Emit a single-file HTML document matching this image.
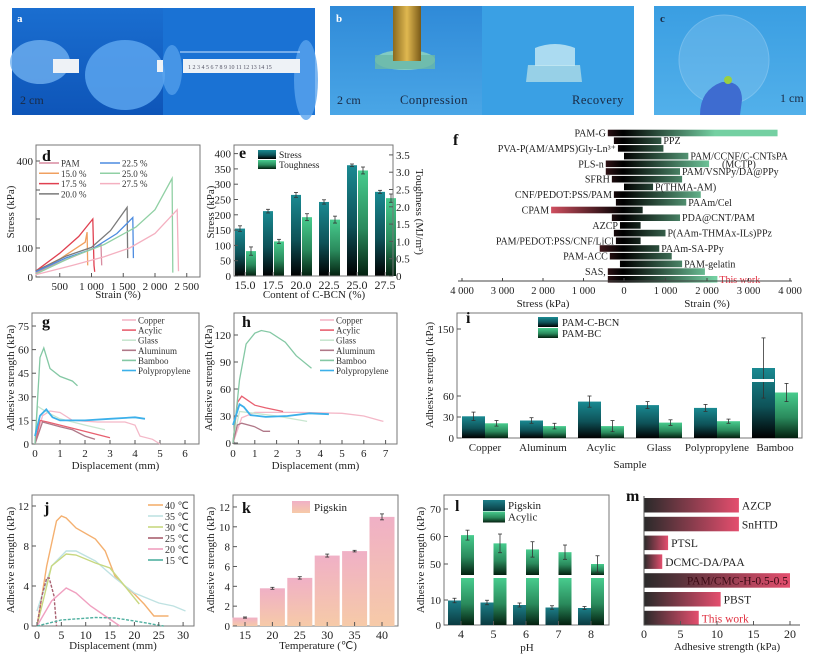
<!DOCTYPE html>
<html><head><meta charset="utf-8">
<style>
html,body{margin:0;padding:0;background:#fff;}
svg{display:block;font-family:"Liberation Serif",serif;}
</style></head>
<body>
<svg id="fig" width="814" height="656" viewBox="0 0 814 656" xmlns="http://www.w3.org/2000/svg">
<defs>
<linearGradient id="gTeal" x1="0" y1="0" x2="0" y2="1"><stop offset="0" stop-color="#1a8a92"/><stop offset="0.55" stop-color="#0e5258"/><stop offset="1" stop-color="#000"/></linearGradient>
<linearGradient id="gGreen" x1="0" y1="0" x2="0" y2="1"><stop offset="0" stop-color="#48cc8e"/><stop offset="0.55" stop-color="#2a8a5c"/><stop offset="1" stop-color="#03200f"/></linearGradient>
<linearGradient id="gPink" x1="0" y1="0" x2="0" y2="1"><stop offset="0" stop-color="#f0b0c6"/><stop offset="1" stop-color="#f6caa8"/></linearGradient>
<linearGradient id="gPig" x1="0" y1="0" x2="0" y2="1"><stop offset="0" stop-color="#1c7e88"/><stop offset="1" stop-color="#0a3a40"/></linearGradient>
<linearGradient id="gM" x1="0" y1="0" x2="1" y2="0"><stop offset="0" stop-color="#2a2a2a"/><stop offset="1" stop-color="#e44e6e"/></linearGradient>
<linearGradient id="gFL" gradientUnits="userSpaceOnUse" x1="622" y1="0" x2="545" y2="0"><stop offset="0" stop-color="#000"/><stop offset="1" stop-color="#e25668"/></linearGradient>
<linearGradient id="gFR" gradientUnits="userSpaceOnUse" x1="624" y1="0" x2="715" y2="0"><stop offset="0" stop-color="#000"/><stop offset="1" stop-color="#74d0a2"/></linearGradient>
<linearGradient id="pa1" x1="0" y1="0" x2="0" y2="1"><stop offset="0" stop-color="#1a6ed0"/><stop offset="1" stop-color="#0e55b8"/></linearGradient>
<linearGradient id="pb1" x1="0" y1="0" x2="0" y2="1"><stop offset="0" stop-color="#2f8ad8"/><stop offset="1" stop-color="#4aa6e6"/></linearGradient>
<linearGradient id="pc1" x1="0" y1="0" x2="0" y2="1"><stop offset="0" stop-color="#3a9ee2"/><stop offset="1" stop-color="#52b0ea"/></linearGradient>
<linearGradient id="gold" x1="0" y1="0" x2="1" y2="0"><stop offset="0" stop-color="#8a6a20"/><stop offset="0.5" stop-color="#e0b850"/><stop offset="1" stop-color="#7a5a18"/></linearGradient>
</defs>

<g>
<rect x="12" y="8" width="151" height="107" fill="url(#pa1)"/>
<rect x="163" y="8" width="152" height="107" fill="#1a72d4"/>
<ellipse cx="40" cy="62" rx="30" ry="22" fill="#6fb0f0" opacity="0.8"/>
<ellipse cx="125" cy="75" rx="40" ry="35" fill="#5aa4ee" opacity="0.85"/>
<ellipse cx="172" cy="70" rx="10" ry="25" fill="#5aa4ee" opacity="0.7"/>
<ellipse cx="306" cy="80" rx="12" ry="40" fill="#5aa4ee" opacity="0.8"/>
<rect x="53" y="59" width="26" height="14" fill="#eef2f6"/>
<rect x="157" y="60" width="6" height="12" fill="#eef2f6"/>
<rect x="183" y="59" width="117" height="14" fill="#eef2f6"/>
<text x="188" y="69" font-size="6" fill="#556">1 2 3 4 5 6 7 8 9 10 11 12 13 14 15</text>
<line x1="180" y1="52" x2="300" y2="52" stroke="#cfe6ff" stroke-width="1"/>
<text x="17" y="22" font-size="11" font-weight="bold" fill="#fff">a</text>
<text x="20" y="104" font-size="12" fill="#1a2a44">2 cm</text>
</g>
<g>
<rect x="330" y="6" width="152" height="109" fill="url(#pb1)"/>
<rect x="482" y="6" width="152" height="109" fill="#3aa0e4"/>
<ellipse cx="405" cy="60" rx="30" ry="10" fill="#8ad0c0" opacity="0.9"/>
<rect x="375" y="55" width="60" height="14" fill="#6ab8a8" opacity="0.8"/>
<rect x="393" y="6" width="28" height="55" fill="url(#gold)"/>
<path d="M528 65 L580 65 L582 82 L526 82 Z" fill="#a8d8e8" opacity="0.85"/>
<path d="M535 48 Q555 40 575 48 L575 66 L535 66 Z" fill="#c8eaf4" opacity="0.8"/>
<text x="337" y="104" font-size="12" fill="#1a2a44">2 cm</text>
<text x="400" y="104" font-size="12.5" fill="#1a2a44" letter-spacing="0.5">Conpression</text>
<text x="572" y="104" font-size="12.5" fill="#1a2a44" letter-spacing="0.5">Recovery</text>
<text x="336" y="22" font-size="11" font-weight="bold" fill="#fff">b</text>
</g>
<g>
<rect x="654" y="6" width="152" height="109" fill="url(#pc1)"/>
<circle cx="724" cy="60" r="45" fill="#8cc8f0" opacity="0.35" stroke="#cfe8fa" stroke-width="1"/>
<path d="M700 115 Q700 90 722 82 Q742 80 742 100 L740 115 Z" fill="#3e6cd0"/>
<circle cx="728" cy="80" r="4" fill="#9ad040"/>
<text x="660" y="22" font-size="11" font-weight="bold" fill="#1a2a44">c</text>
<text x="780" y="102" font-size="12" fill="#1a2a44">1 cm</text>
</g>

<g id="charts"></g>
</svg>
<script>
const NS='http://www.w3.org/2000/svg';
const S=document.getElementById('charts');
function el(tag,a,p){const e=document.createElementNS(NS,tag);for(const k in a)e.setAttribute(k,a[k]);(p||S).appendChild(e);return e;}
function tx(x,y,s,a,p){const e=el('text',Object.assign({x:x,y:y},a||{}),p);e.textContent=s;return e;}
function box(x,y,w,h,name){const r=el('rect',{x:x,y:y,width:w,height:h,fill:'none',stroke:'#777','stroke-width':1});

return r;}
function yTicks(xAxis,vals,labels,fy,name,side,fs){const g=el('g',{});


vals.forEach((v,i)=>{const y=fy(v);const d=side==='r'?-1:1;
el('line',{x1:xAxis,y1:y,x2:xAxis+4*d,y2:y,stroke:'#555'},g);
if(labels[i]!==''){tx(side==='r'?xAxis+3:xAxis-3,y+4,labels[i],{'font-size':fs||11,'text-anchor':side==='r'?'start':'end',fill:'#222'},g);}});return g;}
function xTicks(yAxis,vals,labels,fx,name,fs){const g=el('g',{});


vals.forEach((v,i)=>{const x=fx(v);el('line',{x1:x,y1:yAxis,x2:x,y2:yAxis-4,stroke:'#555'},g);
if(labels[i]!=='')tx(x,yAxis+13,labels[i],{'font-size':fs||11,'text-anchor':'middle',fill:'#222'},g);});return g;}
function vtitle(x,y,s,name,rot){const t=tx(x,y,s,{'font-size':11,'text-anchor':'middle',fill:'#222',transform:'rotate('+(rot||-90)+' '+x+' '+y+')'});

return t;}
function htitle(x,y,s,name){const t=tx(x,y,s,{'font-size':11,'text-anchor':'middle',fill:'#222'});

return t;}
function letter(x,y,s){const t=tx(x,y,s,{'font-size':16,'font-weight':'bold',fill:'#111'});

}
function pts(arr,fx,fy){return arr.map(p=>fx(p[0]).toFixed(1)+','+fy(p[1]).toFixed(1)).join(' ');}
function errbar(x,y1,y2,name){const g=el('g',{stroke:'#333','stroke-width':0.8});


el('line',{x1:x,y1:y1,x2:x,y2:y2},g);el('line',{x1:x-2,y1:y1,x2:x+2,y2:y1},g);el('line',{x1:x-2,y1:y2,x2:x+2,y2:y2},g);}

/* ===== Panel d data ===== */
const dStrainTicks=[500,1000,1500,2000,2500];
const dStrainLabels=['500','1 000','1 500','2 000','2 500'];
const dStressTicks=[0,100,200,300,400];
const dStressLabels=['0','100','','','400'];
const dNames=['PAM','15.0 %','17.5 %','20.0 %','22.5 %','25.0 %','27.5 %'];
const d_PAM=[[120,15],[600,60],[1100,105],[1150,112],[1160,40]];
const d_15=[[120,20],[500,62],[900,120],[930,155],[940,40]];
const d_175=[[120,20],[500,82],[800,140],[1020,200],[1040,40],[1050,18]];
const d_20=[[120,20],[600,72],[1000,102],[1300,160],[1560,240],[1570,65]];
const d_225=[[120,18],[600,66],[1000,95],[1400,150],[1650,205],[1660,65]];
const d_25=[[120,10],[700,70],[1200,112],[1700,172],[2000,232],[2270,340],[2280,15]];
const d_275=[[120,8],[700,40],[1200,70],[1600,100],[2000,150],[2350,232],[2370,20]];
const dCurves=[d_PAM,d_15,d_175,d_20,d_225,d_25,d_275];
const dColors=['#d88ca0','#f0a060','#e04050','#7a7a7a','#4d8ce0','#90d0a4','#f4b0c0'];
{
 const fx=s=>28+s*0.0635, fy=v=>277-v*0.29;
 box(36,145,164,132,'plot-area-d');
 yTicks(36,dStressTicks,dStressLabels,fy,'y-axis-ticks-d');
 xTicks(277,dStrainTicks,dStrainLabels,fx,'x-axis-ticks-d');
 vtitle(14,212,'Stress (kPa)','y-axis-title-d');
 htitle(118,298,'Strain (%)','x-axis-title-d');
 letter(42,161,'d');
 dCurves.forEach((c,i)=>{const l=el('polyline',{points:pts(c,fx,fy),fill:'none',stroke:dColors[i],'stroke-width':1.3});
 
 });
 dNames.forEach((n,i)=>{const col=i<4?0:1, r=i<4?i:i-4;const x=col?100:39, y=163+r*10.3;
 const g=el('g',{});
 
 
 el('line',{x1:x,y1:y,x2:x+20,y2:y,stroke:dColors[i],'stroke-width':1.5},g);
 tx(x+22,y+3.5,n,{'font-size':9,fill:'#333'},g);});
}

/* ===== Panel e data ===== */
const eCats=['15.0','17.5','20.0','22.5','25.0','27.5'];
const eStress=[155,212,265,242,362,275];
const eStressErr=[9,6,8,7,4,5];
const eTough=[0.72,1.0,1.7,1.63,3.05,2.25];
const eToughErr=[0.12,0.06,0.1,0.1,0.1,0.12];
const eStressTicks=[0,50,100,150,200,250,300,350,400];
const eToughTicks=[0,0.5,1.0,1.5,2.0,2.5,3.0,3.5];
{
 const fx=i=>245+i*28, fy=v=>276-v*0.306, ft=v=>276-v*34.6;
 eCats.forEach((c,i)=>{const x=fx(i);
  const b=el('rect',{x:x-10,y:fy(eStress[i]),width:10,height:276-fy(eStress[i]),fill:'url(#gTeal)'});
  
  
  const b2=el('rect',{x:x+1,y:ft(eTough[i]),width:10,height:276-ft(eTough[i]),fill:'url(#gGreen)'});
  
  
  errbar(x-5,fy(eStress[i]+eStressErr[i]),fy(eStress[i]-eStressErr[i]),'error-stress-'+c);
  errbar(x+6,ft(eTough[i]+eToughErr[i]),ft(eTough[i]-eToughErr[i]),'error-toughness-'+c);
 });
 box(234,145,159,131,'plot-area-e');
 yTicks(234,eStressTicks,eStressTicks.map(String),fy,'y-axis-ticks-e');
 yTicks(393,eToughTicks,eToughTicks.map(v=>v===0?'0':v.toFixed(1)),ft,'y2-axis-ticks-e','r');
 xTicks(276,eCats.map((c,i)=>i),eCats,fx,'x-axis-ticks-e',12);
 vtitle(214,212,'Stress (kPa)','y-axis-title-e');
 vtitle(416,212,'Toughness (MJ/m³)','y2-axis-title-e',90);
 htitle(314,298,'Content of C-BCN (%)','x-axis-title-e');
 letter(239,158,'e');
 [['Stress','url(#gTeal)'],['Toughness','url(#gGreen)']].forEach((p,i)=>{const g=el('g',{});
  
  
  el('rect',{x:258,y:150+i*10,width:18,height:9,fill:p[1]},g);
  tx(279,158+i*10,p[0],{'font-size':9.5,fill:'#222'},g);});
}

/* ===== Panel f data ===== */
const fNames=['PAM-G','PPZ','PVA-P(AM/AMPS)Gly-Ln³⁺','PAM/CCNF/C-CNTsPA','PLS-n','PAM/VSNPy/DA@PPy','SFRH','P(THMA-AM)','CNF/PEDOT:PSS/PAM','PAAm/Cel','CPAM','PDA@CNT/PAM','AZCP','P(AAm-THMAx-ILs)PPz','PAM/PEDOT:PSS/CNF/LiCl','PAAm-SA-PPy','PAM-ACC','PAM-gelatin','SAS,','This work'];
const fStress=[400,250,150,0,450,450,300,0,250,200,1800,300,100,250,200,600,350,100,400,400];
const fStrain=[3700,900,950,1550,2050,1350,1400,700,1850,1500,450,1350,400,1000,400,850,1150,1400,1950,2250];
const fLeftLabelRows=[0,2,4,6,8,10,12,14,16,18];
const fRightLabelRows=[1,3,5,7,9,11,13,15,17,19];
const fTickVals=[-4000,-3000,-2000,-1000,0,1000,2000,3000,4000];
const fTickLabels=['4 000','3 000','2 000','1 000','0','1 000','2 000','3 000','4 000'];
{
 const fl=v=>624-v*0.0405, fr=v=>624+v*0.0415, fy=i=>133+i*7.7;
 const fxs=v=>v<0?fl(-v):fr(v);
 fNames.forEach((n,i)=>{const y=fy(i);
  const bl=el('rect',{x:fl(fStress[i]),y:y-3.3,width:Math.max(0,624-fl(fStress[i])),height:6.6,fill:'url(#gFL)'});
  
  
  const br=el('rect',{x:624,y:y-3.3,width:fr(fStrain[i])-624,height:6.6,fill:'url(#gFR)'});
  
  
 });
 fLeftLabelRows.forEach(i=>{const t=tx(Math.min(fl(fStress[i]),622)-2,fy(i)+3.5,fNames[i],{'font-size':10,'text-anchor':'end',fill:'#222'});
  
  });
 fRightLabelRows.forEach(i=>{const red=i===19;const t=tx(fr(fStrain[i])+2,fy(i)+3.5,fNames[i],{'font-size':10,fill:red?'#e03040':'#222'});
  
  });
 const m=tx(722,fy(4)+3.5,'(MCTP)',{'font-size':10,fill:'#222'});
 
 
 const ax=el('line',{x1:458,y1:281,x2:792,y2:281,stroke:'#444'});
 
 
 const g=el('g',{});
 
 
 fTickVals.forEach((v,i)=>{const x=fxs(v);el('line',{x1:x,y1:281,x2:x,y2:278,stroke:'#444'},g);
  tx(x,294,fTickLabels[i],{'font-size':10.5,'text-anchor':'middle',fill:'#222'},g);});
 htitle(543,307,'Stress (kPa)','x-axis-title-f-stress');
 htitle(707,307,'Strain (%)','x-axis-title-f-strain');
 letter(453,145,'f');
}

/* ===== Panels g & h data ===== */
const ghNames=['Copper','Acylic','Glass','Aluminum','Bamboo','Polypropylene'];
const ghColors=['#f4b8c8','#e86070','#c8e6d0','#b07888','#84c8a4','#3cb0ea'];
const g_Copper=[[0,0],[0.3,18],[0.6,21],[1,20],[1.5,15],[2.5,14],[3.6,14],[4,12],[4.2,5],[4.7,3],[5,0]];
const g_Acylic=[[0,0],[0.2,15],[0.5,14],[1,12],[2,8],[3,4]];
const g_Glass=[[0,0],[0.1,24],[0.5,20],[1,16],[2,12],[2.8,9]];
const g_Aluminum=[[0,0],[0.3,14],[1,11],[1.5,9],[2,5],[2.4,3]];
const g_Bamboo=[[0,0],[0.2,55],[0.35,61],[0.6,48],[1,43],[1.5,40],[1.7,37]];
const g_PP=[[0,5],[0.2,18],[0.45,22],[0.7,17],[1,15],[2,15],[3,16],[4,17],[4.4,16]];
const h_Copper=[[0,0],[0.4,28],[1,34],[3,34],[5,33],[6,30],[6.9,24]];
const h_Acylic=[[0,0],[0.2,45],[0.4,52],[1,42],[1.5,39],[2.3,35]];
const h_Glass=[[0,0],[0.3,35],[1,33],[2,30],[3.4,24]];
const h_Aluminum=[[0,0],[0.2,20],[0.4,22],[1,18],[1.4,13],[1.7,13]];
const h_Bamboo=[[0,0],[0.3,70],[0.6,110],[1,122],[1.3,125],[1.7,123],[2.4,112],[2.9,97],[3.6,83]];
const h_PP=[[0,20],[0.3,43],[0.5,40],[0.8,31],[1.5,29],[2.5,30],[3.5,33],[4.4,32]];
const gXTicks=[0,1,2,3,4,5,6];
const gYTicks=[0,15,30,45,60,75];
const hXTicks=[0,1,2,3,4,5,6,7];
const hYTicks=[0,30,60,90,120];
function ghPanel(id,x0,x1,fx,fy,curves,xt,yt,ytitleX){
 box(x0,313,x1-x0,131,'plot-area-'+id);
 yTicks(x0,yt,yt.map(String),fy,'y-axis-ticks-'+id);
 xTicks(444,xt,xt.map(String),fx,'x-axis-ticks-'+id);
 vtitle(ytitleX,378,'Adhesive strength (kPa)','y-axis-title-'+id);
 htitle((x0+x1)/2,469,'Displacement (mm)','x-axis-title-'+id);
 curves.forEach((c,i)=>{const l=el('polyline',{points:pts(c,fx,fy),fill:'none',stroke:ghColors[i],'stroke-width':i===5?1.8:1.3});
  
  });
 ghNames.forEach((n,i)=>{const lx=x1-77, y=320+i*10.1;const g=el('g',{});
  
  
  el('line',{x1:lx,y1:y,x2:lx+14,y2:y,stroke:ghColors[i],'stroke-width':1.6},g);
  tx(lx+16,y+3.5,n,{'font-size':9,fill:'#333'},g);});
}
ghPanel('g',32,199,v=>35+v*25,v=>444-v*1.573,[g_Copper,g_Acylic,g_Glass,g_Aluminum,g_Bamboo,g_PP],gXTicks,gYTicks,14);
letter(42,327,'g');
ghPanel('h',234,397,v=>233+v*21.8,v=>443-v*0.9,[h_Copper,h_Acylic,h_Glass,h_Aluminum,h_Bamboo,h_PP],hXTicks,hYTicks,212);
letter(242,327,'h');

/* ===== Panel i data ===== */
const iCats=['Copper','Aluminum','Acylic','Glass','Polypropylene','Bamboo'];
const iCBCN=[31,25,52,47,43,100];
const iCBCNErr=[6,4,8,5,5,43];
const iBC=[21,17,17,22,24,65];
const iBCErr=[4,4,8,4,3,13];
const iYTicks=[0,30,60,150];
{
 const fx=i=>485+i*58, fy=v=>438-v*0.7;
 box(457,313,345,125,'plot-area-i');
 iCats.forEach((c,i)=>{const x=fx(i);
  const b=el('rect',{x:x-23,y:fy(iCBCN[i]),width:23,height:438-fy(iCBCN[i]),fill:'url(#gTeal)'});
  
  
  const b2=el('rect',{x:x,y:fy(iBC[i]),width:23,height:438-fy(iBC[i]),fill:'url(#gGreen)'});
  
  
  errbar(x-11.5,fy(iCBCN[i]+iCBCNErr[i]),fy(iCBCN[i]-iCBCNErr[i]),'error-c-bcn-'+c.toLowerCase());
  errbar(x+11.5,fy(iBC[i]+iBCErr[i]),fy(iBC[i]-iBCErr[i]),'error-bc-'+c.toLowerCase());
 });
 const brk=el('rect',{x:750,y:379,width:24,height:3,fill:'#fff'});
 
 
 yTicks(457,iYTicks,iYTicks.map(String),v=>v===150?329:fy(v),'y-axis-ticks-i');
 const g=el('g',{});
 
 
 iCats.forEach((c,i)=>tx(fx(i),451,c,{'font-size':11,'text-anchor':'middle',fill:'#222'},g));
 vtitle(433,375,'Adhesive strength (kPa)','y-axis-title-i');
 htitle(630,468,'Sample','x-axis-title-i');
 letter(466,323,'i');
 [['PAM-C-BCN','url(#gTeal)'],['PAM-BC','url(#gGreen)']].forEach((p,i)=>{const g2=el('g',{});
  
  
  el('rect',{x:538,y:317+i*11,width:20,height:10,fill:p[1]},g2);
  tx(562,326+i*11,p[0],{'font-size':10.5,fill:'#222'},g2);});
}

/* ===== Panel j data ===== */
const jNames=['40 ℃','35 ℃','30 ℃','25 ℃','20 ℃','15 ℃'];
const jColors=['#f4b070','#bfe2e2','#c8d880','#a86070','#f0a0c0','#50b0a0'];
const j_40=[[0,0],[2,6],[4,10.5],[5,11],[6,10.8],[8,9.8],[12,8.7],[14,7.5],[16,5],[18,4],[20,3.2],[22,2.2],[24,1],[27,1]];
const j_35=[[0,1.5],[3,6],[6,7.5],[8,7.5],[12,6.5],[16,4.8],[20,3.3],[25,2.3],[28,2],[30.5,1.5]];
const j_30=[[0,0],[3,6],[6,7.2],[8,7.1],[12,6.3],[15,5.8],[18,4],[21,2.2]];
const j_25=[[0,0],[1,3],[2,4.8],[2.5,4.8],[3.5,3],[4,0]];
const j_20=[[0,0],[3,2.5],[6,3.8],[8,3.3],[11,2],[14,1],[17,0]];
const j_15=[[0,0],[5,0.6],[12,0.85],[16,0.8],[20,0.5],[26,0]];
const jXTicks=[0,5,10,15,20,25,30];
const jYTicks=[0,4,8,12];
{
 const fx=v=>37+v*4.87, fy=v=>626-v*10;
 box(32,495,162,131,'plot-area-j');
 [j_40,j_35,j_30,j_25,j_20,j_15].forEach((c,i)=>{const a={points:pts(c,fx,fy),fill:'none',stroke:jColors[i],'stroke-width':1.4};
  if(i===3||i===5)a['stroke-dasharray']='3,1.5';
  const l=el('polyline',a);
  
  });
 yTicks(32,jYTicks,jYTicks.map(String),fy,'y-axis-ticks-j');
 xTicks(626,jXTicks,jXTicks.map(String),fx,'x-axis-ticks-j',12);
 vtitle(14,560,'Adhesive strength (kPa)','y-axis-title-j');
 htitle(113,649,'Displacement (mm)','x-axis-title-j');
 letter(44,513,'j');
 jNames.forEach((n,i)=>{const y=505+i*11;const g=el('g',{});
  
  
  el('line',{x1:148,y1:y,x2:163,y2:y,stroke:jColors[i],'stroke-width':1.6},g);
  tx(165,y+4,n,{'font-size':10,fill:'#333'},g);});
}

/* ===== Panel k data ===== */
const kCats=[15,20,25,30,35,40];
const kVals=[0.85,3.8,4.85,7.1,7.55,11.0];
const kErr=[0.06,0.1,0.12,0.15,0.08,0.3];
const kYTicks=[0,2,4,6,8,10,12];
{
 const fx=i=>245+i*27.4, fy=v=>626-v*9.92;
 box(233,495,165,131,'plot-area-k');
 kCats.forEach((c,i)=>{const x=fx(i);
  const b=el('rect',{x:x-12.5,y:fy(kVals[i]),width:25,height:626-fy(kVals[i]),fill:'url(#gPink)'});
  
  
  errbar(x,fy(kVals[i]+kErr[i]),fy(kVals[i]-kErr[i]),'error-pigskin-'+c);});
 yTicks(233,kYTicks,kYTicks.map(String),fy,'y-axis-ticks-k');
 xTicks(626,kCats.map((c,i)=>i),kCats.map(String),fx,'x-axis-ticks-k',12);
 vtitle(214,560,'Adhesive strength (kPa)','y-axis-title-k');
 htitle(318,649,'Temperature (℃)','x-axis-title-k');
 letter(242,513,'k');
 const g=el('g',{});
 
 
 el('rect',{x:292,y:501,width:18,height:12,fill:'url(#gPink)'},g);
 tx(314,511,'Pigskin',{'font-size':11,fill:'#222'},g);
}

/* ===== Panel l data ===== */
const lCats=[4,5,6,7,8];
const lPig=[9.8,9,8,7,6.8];
const lPigErr=[0.9,0.9,0.8,0.7,0.6];
const lAcy=[60.5,57.5,55.3,54.3,50];
const lAcyErr=[1.8,3.4,2.8,2.6,3];
const lLowTicks=[0,10];
const lUpTicks=[50,60,70];
{
 const fx=i=>461+i*32.5, fyL=v=>625-v*2.5, fyU=v=>564-(v-50)*2.75;
 box(444,495,165,130,'plot-area-l');
 lCats.forEach((c,i)=>{const x=fx(i);
  const p=el('rect',{x:x-13,y:fyL(lPig[i]),width:13,height:625-fyL(lPig[i]),fill:'url(#gPig)'});
  
  
  const a1=el('rect',{x:x,y:578,width:13,height:47,fill:'url(#gGreen)'});
  
  
  const a2=el('rect',{x:x,y:fyU(lAcy[i]),width:13,height:575-fyU(lAcy[i]),fill:'url(#gGreen)'});
  
  
  errbar(x-6.5,fyL(lPig[i]+lPigErr[i]),fyL(lPig[i]-lPigErr[i]),'error-pigskin-ph'+c);
  errbar(x+6.5,fyU(lAcy[i]+lAcyErr[i]),fyU(lAcy[i]-lAcyErr[i]),'error-acylic-ph'+c);});
 yTicks(444,lLowTicks,lLowTicks.map(String),fyL,'y-axis-ticks-l-lower');
 yTicks(444,lUpTicks,lUpTicks.map(String),fyU,'y-axis-ticks-l-upper');
 xTicks(625,lCats.map((c,i)=>i),lCats.map(String),fx,'x-axis-ticks-l',12);
 vtitle(424,560,'Adhesive strength (kPa)','y-axis-title-l');
 htitle(527,651,'pH','x-axis-title-l');
 letter(455,511,'l');
 [['Pigskin','url(#gPig)'],['Acylic','url(#gGreen)']].forEach((p,i)=>{const g=el('g',{});
  
  
  el('rect',{x:483,y:500+i*11.5,width:22,height:11,fill:p[1]},g);
  tx(508,509+i*11.5,p[0],{'font-size':11,fill:'#222'},g);});
}

/* ===== Panel m data ===== */
const mNames=['AZCP','SnHTD','PTSL','DCMC-DA/PAA','PAM/CMC-H-0.5-0.5','PBST','This work'];
const mVals=[13,13,3.3,2.5,20,10.5,7.5];
const mXTicks=[0,5,10,15,20];
{
 const fx=v=>644+v*7.3, fy=i=>505+i*18.8;
 mNames.forEach((n,i)=>{const y=fy(i);
  const b=el('rect',{x:644,y:y-7,width:fx(mVals[i])-644,height:14.5,fill:'url(#gM)'});
  
  
  const inside=i===4;
  const t=tx(inside?fx(mVals[i])-2:fx(mVals[i])+3,y+4.5,n,{'font-size':11.5,'text-anchor':inside?'end':'start',fill:i===6?'#e03040':(inside?'#3a0a14':'#222')});
  
  });
 const ax=el('path',{d:'M644 496 L644 625 L800 625',fill:'none',stroke:'#555'});
 
 
 xTicks(625,mXTicks,mXTicks.map(String),fx,'x-axis-ticks-m',12);
 htitle(727,650,'Adhesive strength (kPa)','x-axis-title-m');
 letter(626,501,'m');
}
</script>
</body></html>
